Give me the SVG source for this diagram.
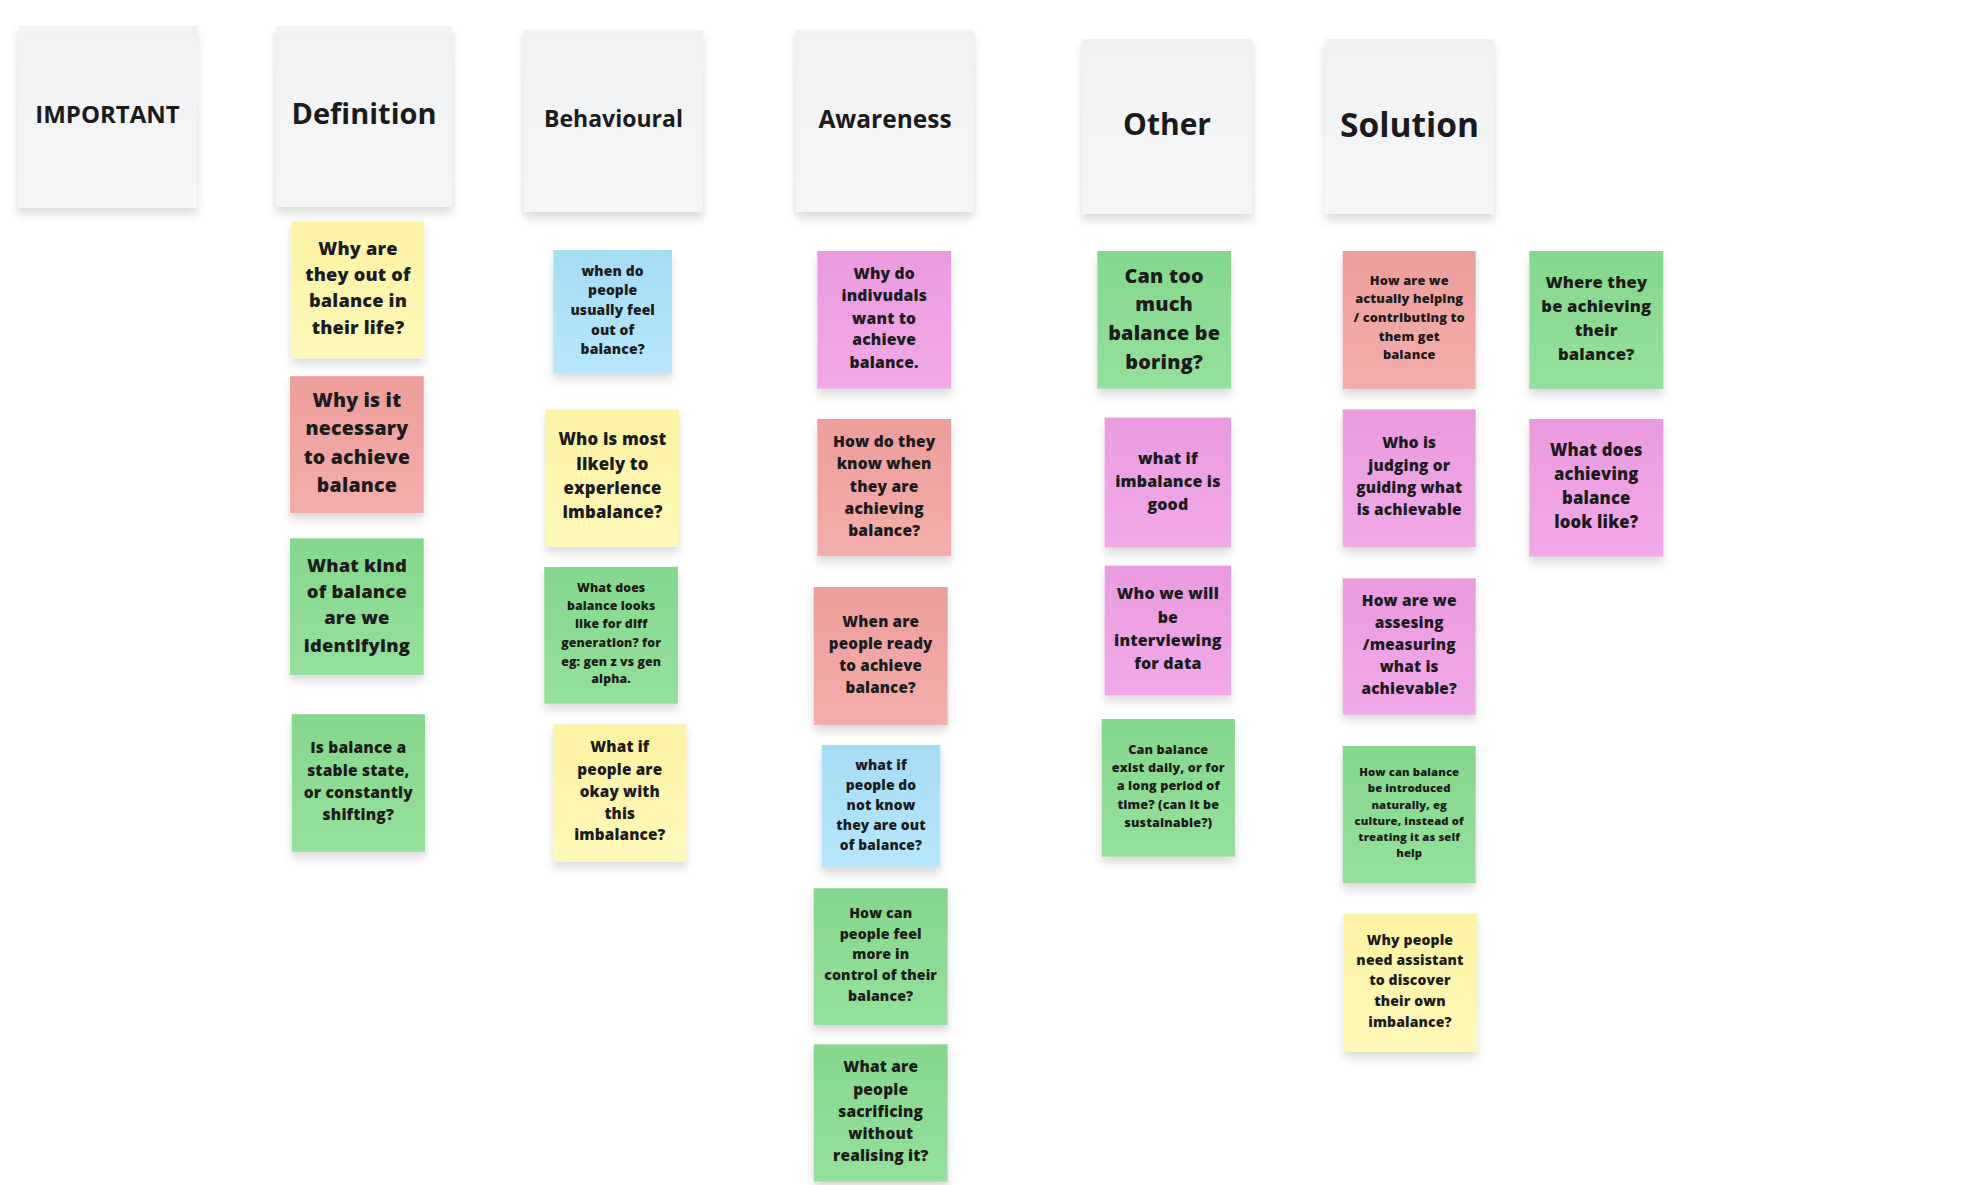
<svg xmlns="http://www.w3.org/2000/svg" width="1962" height="1185" viewBox="0 0 1962 1185">
<defs>
<style>
.hdr rect{fill:url(#gH);filter:url(#sh)}
.hdr text{font-family:"Open Sans","Noto Sans","Liberation Sans",sans-serif;font-weight:700;fill:#1b1b1b;text-anchor:middle}
.note rect{filter:url(#sh)}
.note text{font-family:"Open Sans","Noto Sans","Liberation Sans",sans-serif;font-weight:800;fill:#1c1c1c;text-anchor:middle;letter-spacing:0.01em}
.y{fill:url(#gY)}.r{fill:url(#gR)}.g{fill:url(#gG)}.b{fill:url(#gB)}.p{fill:url(#gP)}
</style>
<filter id="sh" x="-20%" y="-20%" width="140%" height="150%">
<feDropShadow dx="0" dy="6" stdDeviation="5" flood-color="#000" flood-opacity="0.15"/>
</filter>
<linearGradient id="gH" x1="0" y1="0" x2="0" y2="1"><stop offset="0" stop-color="#f0f1f3"/><stop offset="1" stop-color="#f5f6f8"/></linearGradient>
<linearGradient id="gY" x1="0" y1="0" x2="0" y2="1"><stop offset="0" stop-color="#fdf3a3"/><stop offset="1" stop-color="#fff8b8"/></linearGradient>
<linearGradient id="gR" x1="0" y1="0" x2="0" y2="1"><stop offset="0" stop-color="#ee9d9a"/><stop offset="1" stop-color="#f3aeab"/></linearGradient>
<linearGradient id="gG" x1="0" y1="0" x2="0" y2="1"><stop offset="0" stop-color="#85d78d"/><stop offset="1" stop-color="#94e09c"/></linearGradient>
<linearGradient id="gB" x1="0" y1="0" x2="0" y2="1"><stop offset="0" stop-color="#a5dcf4"/><stop offset="1" stop-color="#b6e7fc"/></linearGradient>
<linearGradient id="gP" x1="0" y1="0" x2="0" y2="1"><stop offset="0" stop-color="#ea9adf"/><stop offset="1" stop-color="#f2a9e8"/></linearGradient>
</defs>
<rect width="1962" height="1185" fill="#ffffff"/>

<g id="headers">
<g id="h-important" class="hdr"><rect x="18" y="26" width="179" height="182"/><text x="107.5" y="123" font-size="24">IMPORTANT</text></g>
<g id="h-definition" class="hdr"><rect x="276" y="26" width="176" height="181"/><text x="364" y="123.5" font-size="29">Definition</text></g>
<g id="h-behavioural" class="hdr"><rect x="524" y="30" width="179" height="182"/><text x="613.5" y="127" font-size="23">Behavioural</text></g>
<g id="h-awareness" class="hdr"><rect x="796" y="30" width="178" height="182"/><text x="885" y="127.5" font-size="24.5">Awareness</text></g>
<g id="h-other" class="hdr"><rect x="1082" y="39" width="170" height="175"/><text x="1167" y="134.5" font-size="30">Other</text></g>
<g id="h-solution" class="hdr"><rect x="1325" y="39" width="169" height="175"/><text x="1409.5" y="137" font-size="33.5">Solution</text></g>
</g>

<g id="connectors"></g>

<g id="notes">
<g id="n1" class="note"><rect class="y" x="291.7" y="221.4" width="132.6" height="136.7"/>
<text font-size="18.2"><tspan x="358" y="255.1">Why are</tspan><tspan x="358" y="281.2">they out of</tspan><tspan x="358" y="307.3">balance in</tspan><tspan x="358" y="333.8">their life?</tspan></text></g>

<g id="n2" class="note"><rect class="r" x="290" y="376.2" width="133.7" height="136.8"/>
<text font-size="19.5"><tspan x="356.9" y="407.1">Why is it</tspan><tspan x="356.9" y="435.3">necessary</tspan><tspan x="356.9" y="463.9">to achieve</tspan><tspan x="356.9" y="492.1">balance</tspan></text></g>

<g id="n3" class="note"><rect class="g" x="290" y="538.3" width="133.7" height="136.8"/>
<text font-size="18.4"><tspan x="356.9" y="571.7">What kind</tspan><tspan x="356.9" y="598.3">of balance</tspan><tspan x="356.9" y="624.3">are we</tspan><tspan x="356.9" y="651.7">identifying</tspan></text></g>

<g id="n4" class="note"><rect class="g" x="291.7" y="714.2" width="133.3" height="137.6"/>
<text font-size="15.6"><tspan x="358.3" y="753">Is balance a</tspan><tspan x="358.3" y="775.7">stable state,</tspan><tspan x="358.3" y="798">or constantly</tspan><tspan x="358.3" y="820.3">shifting?</tspan></text></g>

<g id="n5" class="note"><rect class="b" x="553.3" y="250" width="118.7" height="122.9"/>
<text font-size="13.9"><tspan x="612.7" y="275.6">when do</tspan><tspan x="612.7" y="295">people</tspan><tspan x="612.7" y="314.8">usually feel</tspan><tspan x="612.7" y="334.6">out of</tspan><tspan x="612.7" y="353.9">balance?</tspan></text></g>

<g id="n6" class="note"><rect class="y" x="546" y="409.5" width="133" height="137.2"/>
<text font-size="16.8"><tspan x="612.5" y="445.3">Who is most</tspan><tspan x="612.5" y="469.7">likely to</tspan><tspan x="612.5" y="494.1">experience</tspan><tspan x="612.5" y="517.7">imbalance?</tspan></text></g>

<g id="n7" class="note"><rect class="g" x="544.3" y="566.9" width="133.7" height="136.8"/>
<text font-size="12.3"><tspan x="611.2" y="591.6">What does</tspan><tspan x="611.2" y="609.7">balance looks</tspan><tspan x="611.2" y="628.2">like for diff</tspan><tspan x="611.2" y="646.8">generation? for</tspan><tspan x="611.2" y="665.7">eg: gen z vs gen</tspan><tspan x="611.2" y="683.4">alpha.</tspan></text></g>

<g id="n8" class="note"><rect class="y" x="553.3" y="724.3" width="133" height="137.2"/>
<text font-size="15.3"><tspan x="619.8" y="752">What if</tspan><tspan x="619.8" y="774.7">people are</tspan><tspan x="619.8" y="797">okay with</tspan><tspan x="619.8" y="819">this</tspan><tspan x="619.8" y="840.4">imbalance?</tspan></text></g>

<g id="n9" class="note"><rect class="p" x="817.3" y="251" width="133.7" height="137.7"/>
<text font-size="15.7"><tspan x="884.2" y="279.2">Why do</tspan><tspan x="884.2" y="301.2">indivudals</tspan><tspan x="884.2" y="323.5">want to</tspan><tspan x="884.2" y="345.2">achieve</tspan><tspan x="884.2" y="367.9">balance.</tspan></text></g>

<g id="n10" class="note"><rect class="r" x="817.3" y="419" width="133.7" height="137"/>
<text font-size="15.6"><tspan x="884.2" y="446.8">How do they</tspan><tspan x="884.2" y="469.4">know when</tspan><tspan x="884.2" y="491.8">they are</tspan><tspan x="884.2" y="513.8">achieving</tspan><tspan x="884.2" y="535.8">balance?</tspan></text></g>

<g id="n11" class="note"><rect class="r" x="813.7" y="587" width="134" height="138"/>
<text font-size="15.2"><tspan x="880.7" y="626.7">When are</tspan><tspan x="880.7" y="649">people ready</tspan><tspan x="880.7" y="671">to achieve</tspan><tspan x="880.7" y="692.7">balance?</tspan></text></g>

<g id="n12" class="note"><rect class="b" x="821.7" y="745" width="118.6" height="122.7"/>
<text font-size="13.8"><tspan x="881" y="769.6">what if</tspan><tspan x="881" y="790.3">people do</tspan><tspan x="881" y="809.9">not know</tspan><tspan x="881" y="829.9">they are out</tspan><tspan x="881" y="849.6">of balance?</tspan></text></g>

<g id="n13" class="note"><rect class="g" x="813.7" y="888.3" width="134" height="137"/>
<text font-size="14.1"><tspan x="880.7" y="918">How can</tspan><tspan x="880.7" y="938.7">people feel</tspan><tspan x="880.7" y="959.4">more in</tspan><tspan x="880.7" y="980">control of their</tspan><tspan x="880.7" y="1000.7">balance?</tspan></text></g>

<g id="n14" class="note"><rect class="g" x="813.7" y="1044.3" width="134" height="137.4"/>
<text font-size="15.5"><tspan x="880.7" y="1072.4">What are</tspan><tspan x="880.7" y="1095.1">people</tspan><tspan x="880.7" y="1116.8">sacrificing</tspan><tspan x="880.7" y="1138.8">without</tspan><tspan x="880.7" y="1160.8">realising it?</tspan></text></g>

<g id="n15" class="note"><rect class="g" x="1097.3" y="251" width="133.7" height="137.7"/>
<text font-size="19.8"><tspan x="1164.2" y="282.5">Can too</tspan><tspan x="1164.2" y="310.8">much</tspan><tspan x="1164.2" y="339.8">balance be</tspan><tspan x="1164.2" y="368.5">boring?</tspan></text></g>

<g id="n16" class="note"><rect class="p" x="1104.7" y="417.7" width="126.3" height="130"/>
<text font-size="16"><tspan x="1167.9" y="464.3">what if</tspan><tspan x="1167.9" y="487">imbalance is</tspan><tspan x="1167.9" y="510.3">good</tspan></text></g>

<g id="n17" class="note"><rect class="p" x="1104.7" y="565.7" width="126.3" height="129.6"/>
<text font-size="16"><tspan x="1167.9" y="599.3">Who we will</tspan><tspan x="1167.9" y="622.6">be</tspan><tspan x="1167.9" y="646">interviewing</tspan><tspan x="1167.9" y="668.6">for data</tspan></text></g>

<g id="n18" class="note"><rect class="g" x="1101.7" y="719" width="133.3" height="137.7"/>
<text font-size="12.6"><tspan x="1168.3" y="753.5">Can balance</tspan><tspan x="1168.3" y="771.9">exist daily, or for</tspan><tspan x="1168.3" y="790.2">a long period of</tspan><tspan x="1168.3" y="808.5">time? (can it be</tspan><tspan x="1168.3" y="826.9">sustainable?)</tspan></text></g>

<g id="n19" class="note"><rect class="r" x="1342.7" y="251" width="133" height="138"/>
<text font-size="12.8"><tspan x="1409.2" y="285">How are we</tspan><tspan x="1409.2" y="303.4">actually helping</tspan><tspan x="1409.2" y="321.8">/ contributing to</tspan><tspan x="1409.2" y="340.5">them get</tspan><tspan x="1409.2" y="358.9">balance</tspan></text></g>

<g id="n20" class="note"><rect class="p" x="1342.7" y="409.4" width="133" height="137.6"/>
<text font-size="15.4"><tspan x="1409.2" y="448.4">Who is</tspan><tspan x="1409.2" y="470.8">judging or</tspan><tspan x="1409.2" y="492.9">guiding what</tspan><tspan x="1409.2" y="514.9">is achievable</tspan></text></g>

<g id="n21" class="note"><rect class="p" x="1342.7" y="578.4" width="133" height="136.3"/>
<text font-size="15.4"><tspan x="1409.2" y="605.9">How are we</tspan><tspan x="1409.2" y="628">assesing</tspan><tspan x="1409.2" y="650">/measuring</tspan><tspan x="1409.2" y="672.1">what is</tspan><tspan x="1409.2" y="694.1">achievable?</tspan></text></g>

<g id="n22" class="note"><rect class="g" x="1342.7" y="746" width="133" height="137.3"/>
<text font-size="11.3"><tspan x="1409.2" y="775.9">How can balance</tspan><tspan x="1409.2" y="791.9">be introduced</tspan><tspan x="1409.2" y="808.6">naturally, eg</tspan><tspan x="1409.2" y="824.5">culture, instead of</tspan><tspan x="1409.2" y="840.8">treating it as self</tspan><tspan x="1409.2" y="857.2">help</tspan></text></g>

<g id="n23" class="note"><rect class="y" x="1343.3" y="914" width="133.4" height="137.7"/>
<text font-size="14"><tspan x="1410" y="944.6">Why people</tspan><tspan x="1410" y="964.6">need assistant</tspan><tspan x="1410" y="985.3">to discover</tspan><tspan x="1410" y="1005.9">their own</tspan><tspan x="1410" y="1026.9">imbalance?</tspan></text></g>

<g id="n24" class="note"><rect class="g" x="1529.3" y="251" width="134" height="138"/>
<text font-size="16.6"><tspan x="1596.3" y="287.8">Where they</tspan><tspan x="1596.3" y="311.5">be achieving</tspan><tspan x="1596.3" y="335.5">their</tspan><tspan x="1596.3" y="359.8">balance?</tspan></text></g>

<g id="n25" class="note"><rect class="p" x="1529.3" y="419" width="134" height="137.7"/>
<text font-size="16.7"><tspan x="1596.3" y="455.5">What does</tspan><tspan x="1596.3" y="479.5">achieving</tspan><tspan x="1596.3" y="503.8">balance</tspan><tspan x="1596.3" y="528.2">look like?</tspan></text></g>
</g>
</svg>
